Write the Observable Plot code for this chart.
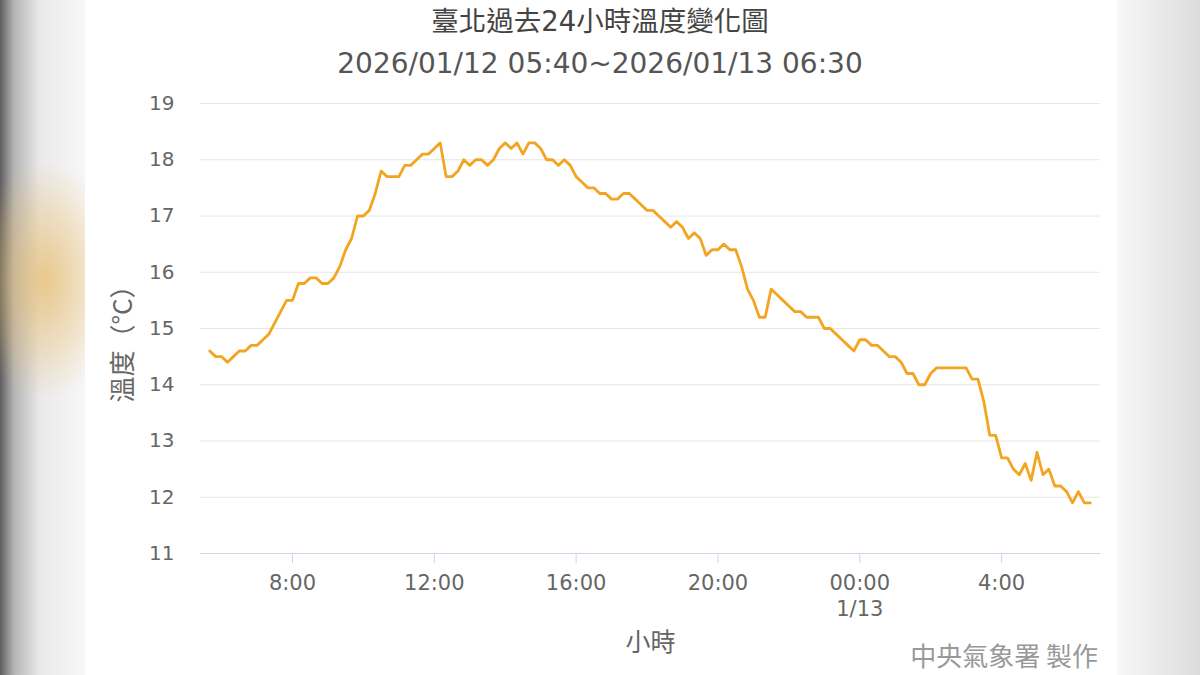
<!DOCTYPE html>
<html>
<head>
<meta charset="utf-8">
<script src="https://cdn.jsdelivr.net/npm/d3@7"></script>
<script src="https://cdn.jsdelivr.net/npm/@observablehq/plot@0.6"></script>
<style>
  html, body { margin:0; padding:0; width:1200px; height:675px; overflow:hidden; }
  #page {
    position:relative; width:1200px; height:675px; overflow:hidden;
    background:
      radial-gradient(ellipse 75px 120px at 45px 280px, rgba(232,185,100,0.7), rgba(232,185,100,0) 100%),
      linear-gradient(to right, #5e5e5e 0px, #b5b5b5 14px, #eaeaea 40px, #f7f7f7 85px, #f7f7f7 1117px, #ededed 1150px, #dcdcdc 1200px);
  }
  #panel { position:absolute; left:85px; top:0; width:1032px; height:675px; background:#fff; }
  .t { position:absolute; left:0; width:1200px; text-align:center; font-family:"DejaVu Sans","Noto Sans CJK TC",sans-serif; white-space:nowrap; }
  #title { top:4px; font-size:27.5px; color:#444; line-height:34px; }
  #subtitle { top:46px; font-size:28px; color:#555; line-height:36px; }
  #credit { position:absolute; right:102px; top:641px; font-size:26px; line-height:28px; color:#999; font-family:"Noto Sans CJK TC",sans-serif; white-space:nowrap; }
  #chart { position:absolute; left:0; top:0; }
</style>
</head>
<body>
<div id="page">
  <div id="panel"></div>
  <div id="chart"></div>
  <div class="t" id="title"></div>
  <div class="t" id="subtitle"></div>
  <div id="credit"></div>
</div>
<script>
// ---- data ----
const titleText = "臺北過去24小時溫度變化圖";
const subtitleText = "2026/01/12 05:40~2026/01/13 06:30";
const yAxisTitle = "溫度（°C）";
const xAxisTitle = "小時";
const creditText = "中央氣象署 製作";

const startTime = "2026-01-12T05:40:00Z";   // first observation
const stepMinutes = 10;                       // observation interval
const temps = [
  14.6,14.5,14.5,14.4,14.5,14.6,14.6,14.7,14.7,14.8,
  14.9,15.1,15.3,15.5,15.5,15.8,15.8,15.9,15.9,15.8,
  15.8,15.9,16.1,16.4,16.6,17.0,17.0,17.1,17.4,17.8,
  17.7,17.7,17.7,17.9,17.9,18.0,18.1,18.1,18.2,18.3,
  17.7,17.7,17.8,18.0,17.9,18.0,18.0,17.9,18.0,18.2,
  18.3,18.2,18.3,18.1,18.3,18.3,18.2,18.0,18.0,17.9,
  18.0,17.9,17.7,17.6,17.5,17.5,17.4,17.4,17.3,17.3,
  17.4,17.4,17.3,17.2,17.1,17.1,17.0,16.9,16.8,16.9,
  16.8,16.6,16.7,16.6,16.3,16.4,16.4,16.5,16.4,16.4,
  16.1,15.7,15.5,15.2,15.2,15.7,15.6,15.5,15.4,15.3,
  15.3,15.2,15.2,15.2,15.0,15.0,14.9,14.8,14.7,14.6,
  14.8,14.8,14.7,14.7,14.6,14.5,14.5,14.4,14.2,14.2,
  14.0,14.0,14.2,14.3,14.3,14.3,14.3,14.3,14.3,14.1,
  14.1,13.7,13.1,13.1,12.7,12.7,12.5,12.4,12.6,12.3,
  12.8,12.4,12.5,12.2,12.2,12.1,11.9,12.1,11.9,11.9
];

const xDomain = ["2026-01-12T05:24:18Z", "2026-01-13T06:47:24Z"];
const xTickTimes = ["2026-01-12T08:00:00Z","2026-01-12T12:00:00Z","2026-01-12T16:00:00Z","2026-01-12T20:00:00Z","2026-01-13T00:00:00Z","2026-01-13T04:00:00Z"];
const xTickLabels = ["8:00","12:00","16:00","20:00","00:00\n1/13","4:00"];
const yTicks = [11,12,13,14,15,16,17,18,19];

// ---- build ----
document.getElementById("title").textContent = titleText;
document.getElementById("subtitle").textContent = subtitleText;
document.getElementById("credit").textContent = creditText;

const t0 = new Date(startTime).getTime();
const data = temps.map((v, i) => ({time: new Date(t0 + i * stepMinutes * 60000), temp: v}));
const tickDates = xTickTimes.map(s => new Date(s));
const tickFmt = d => { const k = tickDates.findIndex(t => t.getTime() === d.getTime()); return k >= 0 ? xTickLabels[k] : ""; };

const chart = Plot.plot({
  width: 1200, height: 675,
  marginLeft: 200, marginRight: 100, marginTop: 103, marginBottom: 122,
  style: {background: "transparent", fontFamily: "'DejaVu Sans','Noto Sans CJK TC',sans-serif", color: "#666", overflow: "visible"},
  x: {type: "utc", domain: xDomain.map(s => new Date(s)), label: null},
  y: {domain: [11, 19], label: null},
  marks: [
    Plot.gridY(yTicks, {stroke: "#e6e6e6", strokeOpacity: 1, strokeWidth: 1}),
    Plot.ruleY([11], {stroke: "#ccd6eb", strokeWidth: 1}),
    Plot.axisY(yTicks, {tickSize: 0, tickPadding: 26, fontSize: 20, fill: "#666", tickFormat: d => String(d), label: null}),
    Plot.axisX(tickDates, {tickSize: 10, tickPadding: 9, stroke: "#ccd6eb", strokeOpacity: 1, fill: "#666", fontSize: 21, lineHeight: 1.2, tickFormat: tickFmt, label: null}),
    Plot.text([yAxisTitle], {frameAnchor: "left", textAnchor: "middle", dx: -77, dy: 9, rotate: -90, fontSize: 26, fill: "#666", fontFamily: "'Noto Sans CJK TC',sans-serif"}),
    Plot.text([xAxisTitle], {frameAnchor: "bottom", dy: 97, fontSize: 25, fill: "#666", fontFamily: "'Noto Sans CJK TC',sans-serif"}),
    Plot.line(data, {x: "time", y: "temp", stroke: "#f3a521", strokeWidth: 2.8, strokeLinejoin: "round", strokeLinecap: "round"})
  ]
});
document.getElementById("chart").appendChild(chart);
</script>
</body>
</html>
